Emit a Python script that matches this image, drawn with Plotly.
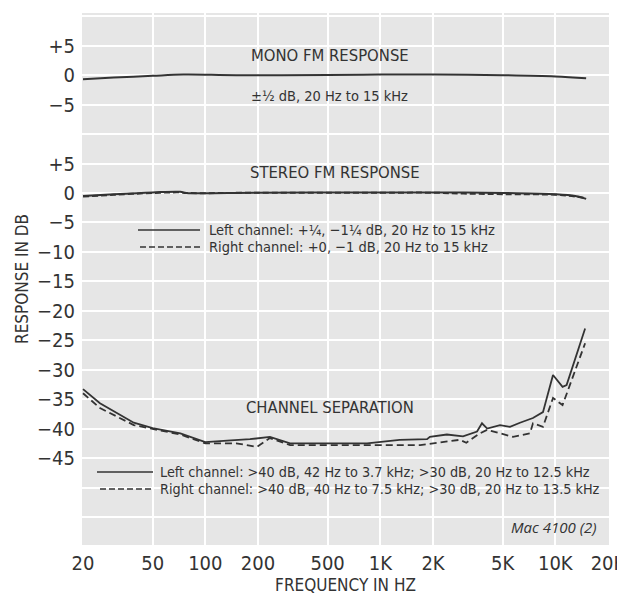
import numpy as np
import plotly.graph_objects as go

# mono FM response (Hz, dB)
mono_freq = [20, 30, 50, 75, 150, 500, 1000, 2000, 5000, 10000, 15000]
mono_db = [-0.7, -0.4, -0.1, 0.1, 0.0, 0.05, 0.1, 0.1, 0.0, -0.2, -0.5]

# stereo FM response
stereo_freq = [20, 30, 50, 72, 78, 200, 1000, 2000, 3000, 5000, 10000, 13000, 15000]
stereo_left_db = [-0.5, -0.2, 0.1, 0.2, 0.0, 0.05, 0.1, 0.1, 0.1, 0.0, -0.2, -0.5, -1.0]
stereo_right_db = [-0.6, -0.3, 0.0, 0.1, 0.0, 0.05, 0.05, 0.05, -0.1, -0.2, -0.3, -0.6, -0.9]

# channel separation
sep_left_freq = [20, 25, 39, 50, 72, 100, 140, 180, 234, 305, 537, 840, 1290, 1850, 1920,
                 2400, 2970, 3570, 3810, 4080, 4830, 5510, 6280, 7450, 8500, 9700, 11000,
                 11600, 14800]
sep_left_db = [-33.3, -35.7, -39.0, -39.9, -40.8, -42.3, -42.0, -41.8, -41.4, -42.5, -42.5,
               -42.5, -41.9, -41.8, -41.4, -41.0, -41.3, -40.5, -39.1, -40.0, -39.4, -39.7,
               -39.0, -38.2, -37.2, -30.9, -32.9, -32.6, -23.0]
sep_right_freq = [20, 25, 39, 50, 72, 100, 150, 197, 234, 305, 500, 1000, 1690, 2850, 3100,
                  3710, 4080, 5730, 7170, 7450, 8500, 9700, 11000, 14800]
sep_right_db = [-34.0, -36.5, -39.4, -40.0, -41.0, -42.5, -42.5, -43.1, -41.6, -42.8, -42.8,
                -42.8, -42.8, -41.9, -42.4, -40.8, -40.2, -41.4, -40.8, -39.1, -39.7, -34.8,
                -36.0, -25.5]

x_ticks = [20, 50, 100, 200, 500, 1000, 2000, 5000, 10000, 20000]
x_labels = ['20', '50', '100', '200', '500', '1K', '2K', '5K', '10K', '20K']
y_grid = list(range(-55, 31, 5))
y_labels = ['+5' if v == 5 else ('0' if v == 0 else ('−%d' % -v if -45 <= v < 0 else '')) for v in y_grid]
mono_ticks = [5, 0, -5]
mono_labels = ['+5', '0', '−5']

OFF = 8  # page margin of the html body
W, H = 625 - OFF, 598 - OFF
L, R, T, B = 74, W - 601, 5, H - 537
INK = '#333333'
FONT = 'Liberation Sans Narrow, DejaVu Sans Condensed, sans-serif'


def px(x):
    return (x - OFF - L) / (W - L - R)


def py(y):
    return (H - B - (y - OFF)) / (H - T - B)


fig = go.Figure()
fig.add_trace(go.Scatter(x=mono_freq, y=mono_db, yaxis='y2', mode='lines',
                         line=dict(color=INK, width=2), line_shape='spline'))
fig.add_trace(go.Scatter(x=stereo_freq, y=stereo_right_db, mode='lines',
                         line=dict(color=INK, width=2, dash='6px,3px'), line_shape='spline'))
fig.add_trace(go.Scatter(x=stereo_freq, y=stereo_left_db, mode='lines',
                         line=dict(color=INK, width=2), line_shape='spline'))
fig.add_trace(go.Scatter(x=sep_right_freq, y=sep_right_db, mode='lines',
                         line=dict(color=INK, width=1.8, dash='7px,4px')))
fig.add_trace(go.Scatter(x=sep_left_freq, y=sep_left_db, mode='lines',
                         line=dict(color=INK, width=1.8)))

x0 = np.log10(20) - 1 / 175
x1 = x0 + (W - L - R) / 175
fig.update_xaxes(type='log', range=[x0, x1], tickvals=x_ticks, ticktext=x_labels,
                 showgrid=True, gridcolor='white', gridwidth=2, zeroline=False,
                 showline=False, ticks='', automargin=False, ticklabelstandoff=4,
                 ticklabeloverflow='allow',
                 tickfont=dict(size=20, color=INK, family=FONT),
                 title=dict(text='FREQUENCY IN HZ', font=dict(size=17, color=INK, family=FONT),
                            standoff=5))
yr = [-59.76, 30.56]
fig.update_layout(
    width=W, height=H,
    margin=dict(l=L, r=R, t=T, b=B),
    paper_bgcolor='white', plot_bgcolor='#e6e6e6',
    showlegend=False,
    font=dict(family=FONT, color=INK),
    yaxis=dict(range=yr, tickvals=y_grid, ticktext=y_labels, showgrid=True,
               gridcolor='white', gridwidth=2, zeroline=False, ticks='', automargin=False,
               ticklabelstandoff=6,
               tickfont=dict(size=20, color=INK, family=FONT),
               title=dict(text='RESPONSE IN DB', font=dict(size=17, color=INK, family=FONT),
                          standoff=4)),
    yaxis2=dict(range=[yr[0] - 20, yr[1] - 20], overlaying='y', side='left',
                tickvals=mono_ticks, ticktext=mono_labels, showgrid=False, zeroline=False,
                ticks='', automargin=False, ticklabelstandoff=6,
                tickfont=dict(size=20, color=INK, family=FONT)),
)

notes = [
    ('MONO FM RESPONSE', 330, 55, 16.5, 'center'),
    ('±½ dB, 20 Hz to 15 kHz', 329, 96, 14.5, 'center'),
    ('STEREO FM RESPONSE', 335, 172, 16.5, 'center'),
    ('Left channel: +¼, −1¼ dB, 20 Hz to 15 kHz', 207, 230, 14.5, 'left'),
    ('Right channel: +0, −1 dB, 20 Hz to 15 kHz', 207, 247, 14.5, 'left'),
    ('CHANNEL SEPARATION', 330, 408, 16.5, 'center'),
    ('Left channel: >40 dB, 42 Hz to 3.7 kHz; >30 dB, 20 Hz to 12.5 kHz', 158, 472, 14.3, 'left'),
    ('Right channel: >40 dB, 40 Hz to 7.5 kHz; >30 dB, 20 Hz to 13.5 kHz', 158, 489, 14.3, 'left'),
]
for text, x, y, size, anchor in notes:
    fig.add_annotation(text=text, x=px(x), y=py(y), xref='paper', yref='paper',
                       xanchor=anchor, yanchor='middle', showarrow=False,
                       font=dict(size=size, color=INK, family=FONT))
fig.add_annotation(text='<i>Mac 4100 (2)</i>', x=px(598), y=py(527), xref='paper', yref='paper',
                   xanchor='right', yanchor='middle', showarrow=False,
                   font=dict(size=15, color=INK, family='Open Sans, sans-serif'))

# legend line samples
samples = [(138, 200, 230, 'solid'), (140, 200, 247, '6px,3px'),
           (97, 153, 472, 'solid'), (100, 153, 489, '6px,3px')]
for xa, xb, y, dash in samples:
    fig.add_shape(type='line', xref='paper', yref='paper', x0=px(xa), x1=px(xb),
                  y0=py(y), y1=py(y), line=dict(color=INK, width=1.5, dash=dash))

fig.write_html("out.html")
